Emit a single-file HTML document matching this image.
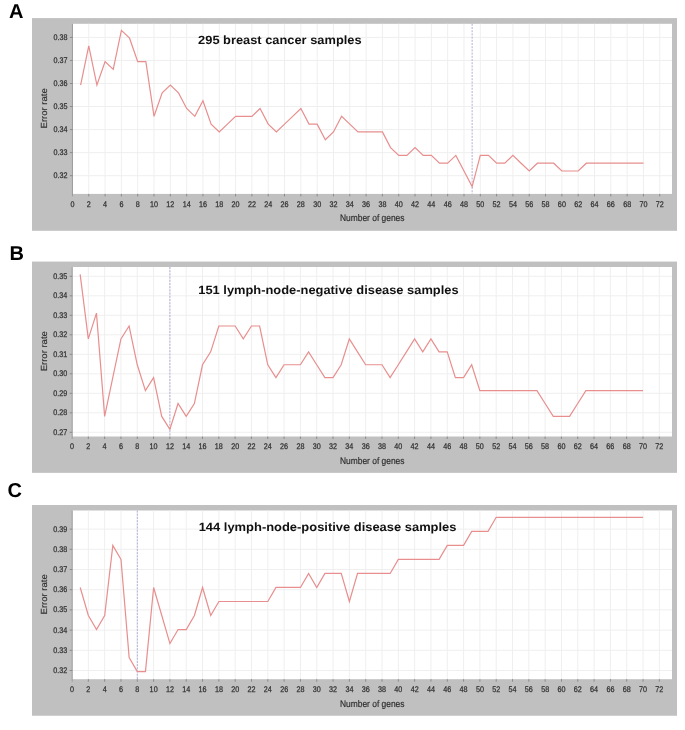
<!DOCTYPE html>
<html><head><meta charset="utf-8"><title>Error rate vs number of genes</title>
<style>
html,body{margin:0;padding:0;background:#fff;}
body{width:685px;height:730px;overflow:hidden;}
svg{display:block;will-change:transform;}
text{font-family:"Liberation Sans",sans-serif;text-rendering:geometricPrecision;}
.let{font-size:20px;font-weight:bold;fill:#000;}
.ti{font-size:12px;font-weight:bold;fill:#111;}
.tl{font-size:8.2px;fill:#2a2a2a;stroke:#3a3a3a;stroke-width:0.25px;}
.al{font-size:9.5px;fill:#2a2a2a;stroke:#3a3a3a;stroke-width:0.2px;}
.grid{stroke:#efefef;stroke-width:1;fill:none;}
.mark{stroke:#b0b0d8;stroke-width:1;stroke-dasharray:2 1.2;fill:none;}
.line{stroke:#e88e8e;stroke-width:1.2;fill:none;stroke-linejoin:miter;}
.axis{stroke:#9a9a9a;stroke-width:1;fill:none;}
.tick{stroke:#8a8a8a;stroke-width:1;fill:none;}
</style></head>
<body>
<svg width="685" height="730" viewBox="0 0 685 730">
<rect x="0" y="0" width="685" height="730" fill="#ffffff"/>
<text x="9.0" y="17.8" class="let">A</text>
<rect x="32.0" y="18.1" width="645.0" height="212.70" fill="#c0c0c0"/>
<rect x="72.45" y="23.8" width="599.55" height="170.10" fill="#ffffff"/>
<path d="M88.76 23.80V193.90M105.08 23.80V193.90M121.39 23.80V193.90M137.71 23.80V193.90M154.02 23.80V193.90M170.33 23.80V193.90M186.65 23.80V193.90M202.96 23.80V193.90M219.28 23.80V193.90M235.59 23.80V193.90M251.90 23.80V193.90M268.22 23.80V193.90M284.53 23.80V193.90M300.85 23.80V193.90M317.16 23.80V193.90M333.47 23.80V193.90M349.79 23.80V193.90M366.10 23.80V193.90M382.42 23.80V193.90M398.73 23.80V193.90M415.04 23.80V193.90M431.36 23.80V193.90M447.67 23.80V193.90M463.99 23.80V193.90M480.30 23.80V193.90M496.61 23.80V193.90M512.93 23.80V193.90M529.24 23.80V193.90M545.56 23.80V193.90M561.87 23.80V193.90M578.18 23.80V193.90M594.50 23.80V193.90M610.81 23.80V193.90M627.13 23.80V193.90M643.44 23.80V193.90M659.75 23.80V193.90M72.45 175.70H672.00M72.45 152.65H672.00M72.45 129.60H672.00M72.45 106.55H672.00M72.45 83.50H672.00M72.45 60.45H672.00M72.45 37.40H672.00" class="grid"/>
<path d="M472.14 23.80V193.90" class="mark"/>
<polyline points="80.61,85.06 88.76,45.99 96.92,85.06 105.08,61.62 113.23,69.44 121.39,30.37 129.55,38.18 137.71,61.62 145.86,61.62 154.02,116.32 162.18,92.88 170.33,85.06 178.49,92.88 186.65,108.50 194.81,116.32 202.96,100.69 211.12,124.13 219.28,131.94 227.43,124.13 235.59,116.32 243.75,116.32 251.90,116.32 260.06,108.50 268.22,124.13 276.38,131.94 284.53,124.13 292.69,116.32 300.85,108.50 309.00,124.13 317.16,124.13 325.32,139.76 333.47,131.94 341.63,116.32 349.79,124.13 357.94,131.94 366.10,131.94 374.26,131.94 382.42,131.94 390.57,147.57 398.73,155.38 406.89,155.38 415.04,147.57 423.20,155.38 431.36,155.38 439.51,163.20 447.67,163.20 455.83,155.38 463.99,171.01 472.14,186.64 480.30,155.38 488.46,155.38 496.61,163.20 504.77,163.20 512.93,155.38 521.09,163.20 529.24,171.01 537.40,163.20 545.56,163.20 553.71,163.20 561.87,171.01 570.03,171.01 578.18,171.01 586.34,163.20 594.50,163.20 602.66,163.20 610.81,163.20 618.97,163.20 627.13,163.20 635.28,163.20 643.44,163.20" class="line"/>
<path d="M72.45 23.80V196.40" class="axis"/>
<path d="M88.76 193.90v2.5M105.08 193.90v2.5M121.39 193.90v2.5M137.71 193.90v2.5M154.02 193.90v2.5M170.33 193.90v2.5M186.65 193.90v2.5M202.96 193.90v2.5M219.28 193.90v2.5M235.59 193.90v2.5M251.90 193.90v2.5M268.22 193.90v2.5M284.53 193.90v2.5M300.85 193.90v2.5M317.16 193.90v2.5M333.47 193.90v2.5M349.79 193.90v2.5M366.10 193.90v2.5M382.42 193.90v2.5M398.73 193.90v2.5M415.04 193.90v2.5M431.36 193.90v2.5M447.67 193.90v2.5M463.99 193.90v2.5M480.30 193.90v2.5M496.61 193.90v2.5M512.93 193.90v2.5M529.24 193.90v2.5M545.56 193.90v2.5M561.87 193.90v2.5M578.18 193.90v2.5M594.50 193.90v2.5M610.81 193.90v2.5M627.13 193.90v2.5M643.44 193.90v2.5M659.75 193.90v2.5M69.95 175.70h2.5M69.95 152.65h2.5M69.95 129.60h2.5M69.95 106.55h2.5M69.95 83.50h2.5M69.95 60.45h2.5M69.95 37.40h2.5" class="tick"/>
<text transform="translate(72.45 206.60) scale(0.88 1)" class="tl" text-anchor="middle">0</text>
<text transform="translate(88.76 206.60) scale(0.88 1)" class="tl" text-anchor="middle">2</text>
<text transform="translate(105.08 206.60) scale(0.88 1)" class="tl" text-anchor="middle">4</text>
<text transform="translate(121.39 206.60) scale(0.88 1)" class="tl" text-anchor="middle">6</text>
<text transform="translate(137.71 206.60) scale(0.88 1)" class="tl" text-anchor="middle">8</text>
<text transform="translate(154.02 206.60) scale(0.88 1)" class="tl" text-anchor="middle">10</text>
<text transform="translate(170.33 206.60) scale(0.88 1)" class="tl" text-anchor="middle">12</text>
<text transform="translate(186.65 206.60) scale(0.88 1)" class="tl" text-anchor="middle">14</text>
<text transform="translate(202.96 206.60) scale(0.88 1)" class="tl" text-anchor="middle">16</text>
<text transform="translate(219.28 206.60) scale(0.88 1)" class="tl" text-anchor="middle">18</text>
<text transform="translate(235.59 206.60) scale(0.88 1)" class="tl" text-anchor="middle">20</text>
<text transform="translate(251.90 206.60) scale(0.88 1)" class="tl" text-anchor="middle">22</text>
<text transform="translate(268.22 206.60) scale(0.88 1)" class="tl" text-anchor="middle">24</text>
<text transform="translate(284.53 206.60) scale(0.88 1)" class="tl" text-anchor="middle">26</text>
<text transform="translate(300.85 206.60) scale(0.88 1)" class="tl" text-anchor="middle">28</text>
<text transform="translate(317.16 206.60) scale(0.88 1)" class="tl" text-anchor="middle">30</text>
<text transform="translate(333.47 206.60) scale(0.88 1)" class="tl" text-anchor="middle">32</text>
<text transform="translate(349.79 206.60) scale(0.88 1)" class="tl" text-anchor="middle">34</text>
<text transform="translate(366.10 206.60) scale(0.88 1)" class="tl" text-anchor="middle">36</text>
<text transform="translate(382.42 206.60) scale(0.88 1)" class="tl" text-anchor="middle">38</text>
<text transform="translate(398.73 206.60) scale(0.88 1)" class="tl" text-anchor="middle">40</text>
<text transform="translate(415.04 206.60) scale(0.88 1)" class="tl" text-anchor="middle">42</text>
<text transform="translate(431.36 206.60) scale(0.88 1)" class="tl" text-anchor="middle">44</text>
<text transform="translate(447.67 206.60) scale(0.88 1)" class="tl" text-anchor="middle">46</text>
<text transform="translate(463.99 206.60) scale(0.88 1)" class="tl" text-anchor="middle">48</text>
<text transform="translate(480.30 206.60) scale(0.88 1)" class="tl" text-anchor="middle">50</text>
<text transform="translate(496.61 206.60) scale(0.88 1)" class="tl" text-anchor="middle">52</text>
<text transform="translate(512.93 206.60) scale(0.88 1)" class="tl" text-anchor="middle">54</text>
<text transform="translate(529.24 206.60) scale(0.88 1)" class="tl" text-anchor="middle">56</text>
<text transform="translate(545.56 206.60) scale(0.88 1)" class="tl" text-anchor="middle">58</text>
<text transform="translate(561.87 206.60) scale(0.88 1)" class="tl" text-anchor="middle">60</text>
<text transform="translate(578.18 206.60) scale(0.88 1)" class="tl" text-anchor="middle">62</text>
<text transform="translate(594.50 206.60) scale(0.88 1)" class="tl" text-anchor="middle">64</text>
<text transform="translate(610.81 206.60) scale(0.88 1)" class="tl" text-anchor="middle">66</text>
<text transform="translate(627.13 206.60) scale(0.88 1)" class="tl" text-anchor="middle">68</text>
<text transform="translate(643.44 206.60) scale(0.88 1)" class="tl" text-anchor="middle">70</text>
<text transform="translate(659.75 206.60) scale(0.88 1)" class="tl" text-anchor="middle">72</text>
<text transform="translate(67.55 178.25) scale(0.88 1)" class="tl" text-anchor="end">0.32</text>
<text transform="translate(67.55 155.20) scale(0.88 1)" class="tl" text-anchor="end">0.33</text>
<text transform="translate(67.55 132.15) scale(0.88 1)" class="tl" text-anchor="end">0.34</text>
<text transform="translate(67.55 109.10) scale(0.88 1)" class="tl" text-anchor="end">0.35</text>
<text transform="translate(67.55 86.05) scale(0.88 1)" class="tl" text-anchor="end">0.36</text>
<text transform="translate(67.55 63.00) scale(0.88 1)" class="tl" text-anchor="end">0.37</text>
<text transform="translate(67.55 39.95) scale(0.88 1)" class="tl" text-anchor="end">0.38</text>
<text x="340.0" y="221.20" class="al" textLength="64.5" lengthAdjust="spacingAndGlyphs">Number of genes</text>
<text transform="translate(47.3 108.35) scale(0.93 1) rotate(-90)" x="0" y="0" class="al" text-anchor="middle">Error rate</text>
<text x="198.1" y="44.0" class="ti" textLength="163.5" lengthAdjust="spacingAndGlyphs">295 breast cancer samples</text>
<text x="9.5" y="259.8" class="let">B</text>
<rect x="32.0" y="261.55" width="645.0" height="211.30" fill="#c0c0c0"/>
<rect x="72.2" y="267.0" width="599.80" height="169.50" fill="#ffffff"/>
<path d="M88.31 267.00V436.50M104.63 267.00V436.50M120.94 267.00V436.50M137.26 267.00V436.50M153.57 267.00V436.50M169.88 267.00V436.50M186.20 267.00V436.50M202.51 267.00V436.50M218.83 267.00V436.50M235.14 267.00V436.50M251.45 267.00V436.50M267.77 267.00V436.50M284.08 267.00V436.50M300.40 267.00V436.50M316.71 267.00V436.50M333.02 267.00V436.50M349.34 267.00V436.50M365.65 267.00V436.50M381.97 267.00V436.50M398.28 267.00V436.50M414.59 267.00V436.50M430.91 267.00V436.50M447.22 267.00V436.50M463.54 267.00V436.50M479.85 267.00V436.50M496.16 267.00V436.50M512.48 267.00V436.50M528.79 267.00V436.50M545.11 267.00V436.50M561.42 267.00V436.50M577.73 267.00V436.50M594.05 267.00V436.50M610.36 267.00V436.50M626.68 267.00V436.50M642.99 267.00V436.50M659.30 267.00V436.50M72.20 432.30H672.00M72.20 412.80H672.00M72.20 393.30H672.00M72.20 373.80H672.00M72.20 354.30H672.00M72.20 334.80H672.00M72.20 315.30H672.00M72.20 295.80H672.00M72.20 276.30H672.00" class="grid"/>
<path d="M169.88 267.00V436.50" class="mark"/>
<polyline points="80.16,274.36 88.31,338.93 96.47,313.10 104.63,416.42 112.78,377.67 120.94,338.93 129.10,326.02 137.26,364.76 145.41,390.59 153.57,377.67 161.73,416.42 169.88,429.33 178.04,403.50 186.20,416.42 194.36,403.50 202.51,364.76 210.67,351.85 218.83,326.02 226.98,326.02 235.14,326.02 243.30,338.93 251.45,326.02 259.61,326.02 267.77,364.76 275.93,377.67 284.08,364.76 292.24,364.76 300.40,364.76 308.55,351.85 316.71,364.76 324.87,377.67 333.02,377.67 341.18,364.76 349.34,338.93 357.50,351.85 365.65,364.76 373.81,364.76 381.97,364.76 390.12,377.67 398.28,364.76 406.44,351.85 414.59,338.93 422.75,351.85 430.91,338.93 439.06,351.85 447.22,351.85 455.38,377.67 463.54,377.67 471.69,364.76 479.85,390.59 488.01,390.59 496.16,390.59 504.32,390.59 512.48,390.59 520.63,390.59 528.79,390.59 536.95,390.59 545.11,403.50 553.26,416.42 561.42,416.42 569.58,416.42 577.73,403.50 585.89,390.59 594.05,390.59 602.21,390.59 610.36,390.59 618.52,390.59 626.68,390.59 634.83,390.59 642.99,390.59" class="line"/>
<path d="M72.20 267.00V439.00" class="axis"/>
<path d="M88.31 436.50v2.5M104.63 436.50v2.5M120.94 436.50v2.5M137.26 436.50v2.5M153.57 436.50v2.5M169.88 436.50v2.5M186.20 436.50v2.5M202.51 436.50v2.5M218.83 436.50v2.5M235.14 436.50v2.5M251.45 436.50v2.5M267.77 436.50v2.5M284.08 436.50v2.5M300.40 436.50v2.5M316.71 436.50v2.5M333.02 436.50v2.5M349.34 436.50v2.5M365.65 436.50v2.5M381.97 436.50v2.5M398.28 436.50v2.5M414.59 436.50v2.5M430.91 436.50v2.5M447.22 436.50v2.5M463.54 436.50v2.5M479.85 436.50v2.5M496.16 436.50v2.5M512.48 436.50v2.5M528.79 436.50v2.5M545.11 436.50v2.5M561.42 436.50v2.5M577.73 436.50v2.5M594.05 436.50v2.5M610.36 436.50v2.5M626.68 436.50v2.5M642.99 436.50v2.5M659.30 436.50v2.5M69.70 432.30h2.5M69.70 412.80h2.5M69.70 393.30h2.5M69.70 373.80h2.5M69.70 354.30h2.5M69.70 334.80h2.5M69.70 315.30h2.5M69.70 295.80h2.5M69.70 276.30h2.5" class="tick"/>
<text transform="translate(72.00 449.20) scale(0.88 1)" class="tl" text-anchor="middle">0</text>
<text transform="translate(88.31 449.20) scale(0.88 1)" class="tl" text-anchor="middle">2</text>
<text transform="translate(104.63 449.20) scale(0.88 1)" class="tl" text-anchor="middle">4</text>
<text transform="translate(120.94 449.20) scale(0.88 1)" class="tl" text-anchor="middle">6</text>
<text transform="translate(137.26 449.20) scale(0.88 1)" class="tl" text-anchor="middle">8</text>
<text transform="translate(153.57 449.20) scale(0.88 1)" class="tl" text-anchor="middle">10</text>
<text transform="translate(169.88 449.20) scale(0.88 1)" class="tl" text-anchor="middle">12</text>
<text transform="translate(186.20 449.20) scale(0.88 1)" class="tl" text-anchor="middle">14</text>
<text transform="translate(202.51 449.20) scale(0.88 1)" class="tl" text-anchor="middle">16</text>
<text transform="translate(218.83 449.20) scale(0.88 1)" class="tl" text-anchor="middle">18</text>
<text transform="translate(235.14 449.20) scale(0.88 1)" class="tl" text-anchor="middle">20</text>
<text transform="translate(251.45 449.20) scale(0.88 1)" class="tl" text-anchor="middle">22</text>
<text transform="translate(267.77 449.20) scale(0.88 1)" class="tl" text-anchor="middle">24</text>
<text transform="translate(284.08 449.20) scale(0.88 1)" class="tl" text-anchor="middle">26</text>
<text transform="translate(300.40 449.20) scale(0.88 1)" class="tl" text-anchor="middle">28</text>
<text transform="translate(316.71 449.20) scale(0.88 1)" class="tl" text-anchor="middle">30</text>
<text transform="translate(333.02 449.20) scale(0.88 1)" class="tl" text-anchor="middle">32</text>
<text transform="translate(349.34 449.20) scale(0.88 1)" class="tl" text-anchor="middle">34</text>
<text transform="translate(365.65 449.20) scale(0.88 1)" class="tl" text-anchor="middle">36</text>
<text transform="translate(381.97 449.20) scale(0.88 1)" class="tl" text-anchor="middle">38</text>
<text transform="translate(398.28 449.20) scale(0.88 1)" class="tl" text-anchor="middle">40</text>
<text transform="translate(414.59 449.20) scale(0.88 1)" class="tl" text-anchor="middle">42</text>
<text transform="translate(430.91 449.20) scale(0.88 1)" class="tl" text-anchor="middle">44</text>
<text transform="translate(447.22 449.20) scale(0.88 1)" class="tl" text-anchor="middle">46</text>
<text transform="translate(463.54 449.20) scale(0.88 1)" class="tl" text-anchor="middle">48</text>
<text transform="translate(479.85 449.20) scale(0.88 1)" class="tl" text-anchor="middle">50</text>
<text transform="translate(496.16 449.20) scale(0.88 1)" class="tl" text-anchor="middle">52</text>
<text transform="translate(512.48 449.20) scale(0.88 1)" class="tl" text-anchor="middle">54</text>
<text transform="translate(528.79 449.20) scale(0.88 1)" class="tl" text-anchor="middle">56</text>
<text transform="translate(545.11 449.20) scale(0.88 1)" class="tl" text-anchor="middle">58</text>
<text transform="translate(561.42 449.20) scale(0.88 1)" class="tl" text-anchor="middle">60</text>
<text transform="translate(577.73 449.20) scale(0.88 1)" class="tl" text-anchor="middle">62</text>
<text transform="translate(594.05 449.20) scale(0.88 1)" class="tl" text-anchor="middle">64</text>
<text transform="translate(610.36 449.20) scale(0.88 1)" class="tl" text-anchor="middle">66</text>
<text transform="translate(626.68 449.20) scale(0.88 1)" class="tl" text-anchor="middle">68</text>
<text transform="translate(642.99 449.20) scale(0.88 1)" class="tl" text-anchor="middle">70</text>
<text transform="translate(659.30 449.20) scale(0.88 1)" class="tl" text-anchor="middle">72</text>
<text transform="translate(67.30 434.85) scale(0.88 1)" class="tl" text-anchor="end">0.27</text>
<text transform="translate(67.30 415.35) scale(0.88 1)" class="tl" text-anchor="end">0.28</text>
<text transform="translate(67.30 395.85) scale(0.88 1)" class="tl" text-anchor="end">0.29</text>
<text transform="translate(67.30 376.35) scale(0.88 1)" class="tl" text-anchor="end">0.30</text>
<text transform="translate(67.30 356.85) scale(0.88 1)" class="tl" text-anchor="end">0.31</text>
<text transform="translate(67.30 337.35) scale(0.88 1)" class="tl" text-anchor="end">0.32</text>
<text transform="translate(67.30 317.85) scale(0.88 1)" class="tl" text-anchor="end">0.33</text>
<text transform="translate(67.30 298.35) scale(0.88 1)" class="tl" text-anchor="end">0.34</text>
<text transform="translate(67.30 278.85) scale(0.88 1)" class="tl" text-anchor="end">0.35</text>
<text x="340.0" y="463.80" class="al" textLength="64.5" lengthAdjust="spacingAndGlyphs">Number of genes</text>
<text transform="translate(47.3 351.25) scale(0.93 1) rotate(-90)" x="0" y="0" class="al" text-anchor="middle">Error rate</text>
<text x="198.3" y="293.6" class="ti" textLength="260.3" lengthAdjust="spacingAndGlyphs">151 lymph-node-negative disease samples</text>
<text x="7.5" y="496.8" class="let">C</text>
<rect x="32.0" y="505.0" width="645.0" height="210.75" fill="#c0c0c0"/>
<rect x="72.2" y="510.5" width="599.80" height="168.70" fill="#ffffff"/>
<path d="M88.36 510.50V679.20M104.68 510.50V679.20M120.99 510.50V679.20M137.31 510.50V679.20M153.62 510.50V679.20M169.93 510.50V679.20M186.25 510.50V679.20M202.56 510.50V679.20M218.88 510.50V679.20M235.19 510.50V679.20M251.50 510.50V679.20M267.82 510.50V679.20M284.13 510.50V679.20M300.45 510.50V679.20M316.76 510.50V679.20M333.07 510.50V679.20M349.39 510.50V679.20M365.70 510.50V679.20M382.02 510.50V679.20M398.33 510.50V679.20M414.64 510.50V679.20M430.96 510.50V679.20M447.27 510.50V679.20M463.59 510.50V679.20M479.90 510.50V679.20M496.21 510.50V679.20M512.53 510.50V679.20M528.84 510.50V679.20M545.16 510.50V679.20M561.47 510.50V679.20M577.78 510.50V679.20M594.10 510.50V679.20M610.41 510.50V679.20M626.73 510.50V679.20M643.04 510.50V679.20M659.35 510.50V679.20M72.20 670.50H672.00M72.20 650.30H672.00M72.20 630.10H672.00M72.20 609.90H672.00M72.20 589.70H672.00M72.20 569.50H672.00M72.20 549.30H672.00M72.20 529.10H672.00" class="grid"/>
<path d="M137.31 510.50V679.20" class="mark"/>
<polyline points="80.21,587.46 88.36,615.51 96.52,629.54 104.68,615.51 112.83,545.37 120.99,559.40 129.15,657.59 137.31,671.62 145.46,671.62 153.62,587.46 161.78,615.51 169.93,643.57 178.09,629.54 186.25,629.54 194.41,615.51 202.56,587.46 210.72,615.51 218.88,601.48 227.03,601.48 235.19,601.48 243.35,601.48 251.50,601.48 259.66,601.48 267.82,601.48 275.98,587.46 284.13,587.46 292.29,587.46 300.45,587.46 308.60,573.43 316.76,587.46 324.92,573.43 333.07,573.43 341.23,573.43 349.39,601.48 357.55,573.43 365.70,573.43 373.86,573.43 382.02,573.43 390.17,573.43 398.33,559.40 406.49,559.40 414.64,559.40 422.80,559.40 430.96,559.40 439.12,559.40 447.27,545.37 455.43,545.37 463.59,545.37 471.74,531.34 479.90,531.34 488.06,531.34 496.21,517.32 504.37,517.32 512.53,517.32 520.68,517.32 528.84,517.32 537.00,517.32 545.16,517.32 553.31,517.32 561.47,517.32 569.63,517.32 577.78,517.32 585.94,517.32 594.10,517.32 602.25,517.32 610.41,517.32 618.57,517.32 626.73,517.32 634.88,517.32 643.04,517.32" class="line"/>
<path d="M72.20 510.50V681.70" class="axis"/>
<path d="M88.36 679.20v2.5M104.68 679.20v2.5M120.99 679.20v2.5M137.31 679.20v2.5M153.62 679.20v2.5M169.93 679.20v2.5M186.25 679.20v2.5M202.56 679.20v2.5M218.88 679.20v2.5M235.19 679.20v2.5M251.50 679.20v2.5M267.82 679.20v2.5M284.13 679.20v2.5M300.45 679.20v2.5M316.76 679.20v2.5M333.07 679.20v2.5M349.39 679.20v2.5M365.70 679.20v2.5M382.02 679.20v2.5M398.33 679.20v2.5M414.64 679.20v2.5M430.96 679.20v2.5M447.27 679.20v2.5M463.59 679.20v2.5M479.90 679.20v2.5M496.21 679.20v2.5M512.53 679.20v2.5M528.84 679.20v2.5M545.16 679.20v2.5M561.47 679.20v2.5M577.78 679.20v2.5M594.10 679.20v2.5M610.41 679.20v2.5M626.73 679.20v2.5M643.04 679.20v2.5M659.35 679.20v2.5M69.70 670.50h2.5M69.70 650.30h2.5M69.70 630.10h2.5M69.70 609.90h2.5M69.70 589.70h2.5M69.70 569.50h2.5M69.70 549.30h2.5M69.70 529.10h2.5" class="tick"/>
<text transform="translate(72.05 691.90) scale(0.88 1)" class="tl" text-anchor="middle">0</text>
<text transform="translate(88.36 691.90) scale(0.88 1)" class="tl" text-anchor="middle">2</text>
<text transform="translate(104.68 691.90) scale(0.88 1)" class="tl" text-anchor="middle">4</text>
<text transform="translate(120.99 691.90) scale(0.88 1)" class="tl" text-anchor="middle">6</text>
<text transform="translate(137.31 691.90) scale(0.88 1)" class="tl" text-anchor="middle">8</text>
<text transform="translate(153.62 691.90) scale(0.88 1)" class="tl" text-anchor="middle">10</text>
<text transform="translate(169.93 691.90) scale(0.88 1)" class="tl" text-anchor="middle">12</text>
<text transform="translate(186.25 691.90) scale(0.88 1)" class="tl" text-anchor="middle">14</text>
<text transform="translate(202.56 691.90) scale(0.88 1)" class="tl" text-anchor="middle">16</text>
<text transform="translate(218.88 691.90) scale(0.88 1)" class="tl" text-anchor="middle">18</text>
<text transform="translate(235.19 691.90) scale(0.88 1)" class="tl" text-anchor="middle">20</text>
<text transform="translate(251.50 691.90) scale(0.88 1)" class="tl" text-anchor="middle">22</text>
<text transform="translate(267.82 691.90) scale(0.88 1)" class="tl" text-anchor="middle">24</text>
<text transform="translate(284.13 691.90) scale(0.88 1)" class="tl" text-anchor="middle">26</text>
<text transform="translate(300.45 691.90) scale(0.88 1)" class="tl" text-anchor="middle">28</text>
<text transform="translate(316.76 691.90) scale(0.88 1)" class="tl" text-anchor="middle">30</text>
<text transform="translate(333.07 691.90) scale(0.88 1)" class="tl" text-anchor="middle">32</text>
<text transform="translate(349.39 691.90) scale(0.88 1)" class="tl" text-anchor="middle">34</text>
<text transform="translate(365.70 691.90) scale(0.88 1)" class="tl" text-anchor="middle">36</text>
<text transform="translate(382.02 691.90) scale(0.88 1)" class="tl" text-anchor="middle">38</text>
<text transform="translate(398.33 691.90) scale(0.88 1)" class="tl" text-anchor="middle">40</text>
<text transform="translate(414.64 691.90) scale(0.88 1)" class="tl" text-anchor="middle">42</text>
<text transform="translate(430.96 691.90) scale(0.88 1)" class="tl" text-anchor="middle">44</text>
<text transform="translate(447.27 691.90) scale(0.88 1)" class="tl" text-anchor="middle">46</text>
<text transform="translate(463.59 691.90) scale(0.88 1)" class="tl" text-anchor="middle">48</text>
<text transform="translate(479.90 691.90) scale(0.88 1)" class="tl" text-anchor="middle">50</text>
<text transform="translate(496.21 691.90) scale(0.88 1)" class="tl" text-anchor="middle">52</text>
<text transform="translate(512.53 691.90) scale(0.88 1)" class="tl" text-anchor="middle">54</text>
<text transform="translate(528.84 691.90) scale(0.88 1)" class="tl" text-anchor="middle">56</text>
<text transform="translate(545.16 691.90) scale(0.88 1)" class="tl" text-anchor="middle">58</text>
<text transform="translate(561.47 691.90) scale(0.88 1)" class="tl" text-anchor="middle">60</text>
<text transform="translate(577.78 691.90) scale(0.88 1)" class="tl" text-anchor="middle">62</text>
<text transform="translate(594.10 691.90) scale(0.88 1)" class="tl" text-anchor="middle">64</text>
<text transform="translate(610.41 691.90) scale(0.88 1)" class="tl" text-anchor="middle">66</text>
<text transform="translate(626.73 691.90) scale(0.88 1)" class="tl" text-anchor="middle">68</text>
<text transform="translate(643.04 691.90) scale(0.88 1)" class="tl" text-anchor="middle">70</text>
<text transform="translate(659.35 691.90) scale(0.88 1)" class="tl" text-anchor="middle">72</text>
<text transform="translate(67.30 673.05) scale(0.88 1)" class="tl" text-anchor="end">0.32</text>
<text transform="translate(67.30 652.85) scale(0.88 1)" class="tl" text-anchor="end">0.33</text>
<text transform="translate(67.30 632.65) scale(0.88 1)" class="tl" text-anchor="end">0.34</text>
<text transform="translate(67.30 612.45) scale(0.88 1)" class="tl" text-anchor="end">0.35</text>
<text transform="translate(67.30 592.25) scale(0.88 1)" class="tl" text-anchor="end">0.36</text>
<text transform="translate(67.30 572.05) scale(0.88 1)" class="tl" text-anchor="end">0.37</text>
<text transform="translate(67.30 551.85) scale(0.88 1)" class="tl" text-anchor="end">0.38</text>
<text transform="translate(67.30 531.65) scale(0.88 1)" class="tl" text-anchor="end">0.39</text>
<text x="340.0" y="706.50" class="al" textLength="64.5" lengthAdjust="spacingAndGlyphs">Number of genes</text>
<text transform="translate(47.3 594.35) scale(0.93 1) rotate(-90)" x="0" y="0" class="al" text-anchor="middle">Error rate</text>
<text x="198.7" y="531.1" class="ti" textLength="257.8" lengthAdjust="spacingAndGlyphs">144 lymph-node-positive disease samples</text>
</svg>
</body></html>
